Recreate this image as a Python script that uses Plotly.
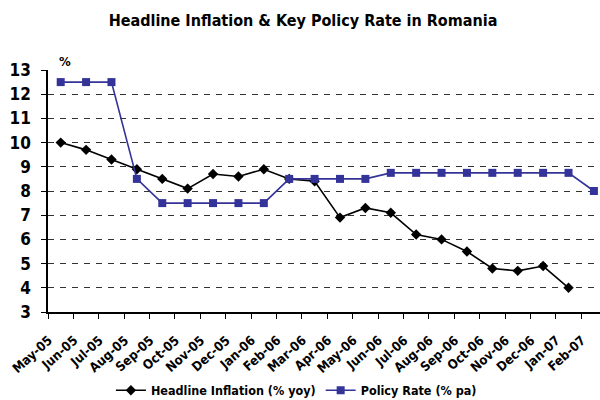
import plotly.graph_objects as go

months = ["May-05", "Jun-05", "Jul-05", "Aug-05", "Sep-05", "Oct-05", "Nov-05", "Dec-05",
          "Jan-06", "Feb-06", "Mar-06", "Apr-06", "May-06", "Jun-06", "Jul-06", "Aug-06",
          "Sep-06", "Oct-06", "Nov-06", "Dec-06", "Jan-07", "Feb-07"]
inflation = [10.0, 9.7, 9.3, 8.9, 8.5, 8.1, 8.7, 8.6, 8.9, 8.5, 8.4, 6.9, 7.3, 7.1,
             6.2, 6.0, 5.5, 4.8, 4.7, 4.9, 4.0]
policy = [12.5, 12.5, 12.5, 8.5, 7.5, 7.5, 7.5, 7.5, 7.5, 8.5, 8.5, 8.5, 8.5, 8.75,
          8.75, 8.75, 8.75, 8.75, 8.75, 8.75, 8.75, 8.0]
y_ticks = list(range(3, 14))

FONT = "DejaVu Sans Condensed, DejaVu Sans, sans-serif"

fig = go.Figure()
fig.add_trace(go.Scatter(
    x=months[:len(inflation)], y=inflation, name="Headline Inflation (% yoy)",
    mode="lines+markers", line=dict(color="black", width=1.6),
    marker=dict(symbol="diamond", size=8, color="black"), cliponaxis=False))
fig.add_trace(go.Scatter(
    x=months, y=policy, name="Policy Rate (% pa)",
    mode="lines+markers", line=dict(color="#333399", width=1.6),
    marker=dict(symbol="square", size=8, color="#333399"), cliponaxis=False))

fig.update_layout(
    width=600, height=400,
    margin=dict(l=48, r=0, t=70, b=88, autoexpand=False),
    paper_bgcolor="white", plot_bgcolor="white",
    font=dict(family=FONT, color="black"),
    title=dict(text="Headline Inflation & Key Policy Rate in Romania",
               x=0.505, xanchor="center", y=0.95, yanchor="middle",
               font=dict(size=16, family=FONT, color="black", weight="bold")),
    showlegend=True,
    legend=dict(orientation="h", x=0.45, xanchor="center", y=-0.325, yanchor="middle",
                font=dict(size=12.5, family=FONT, color="black", weight="bold"), itemwidth=30,
                traceorder="normal", bgcolor="rgba(0,0,0,0)", itemclick=False),
    xaxis=dict(type="category", categoryorder="array", categoryarray=months,
               range=[-0.5, 21.24], tickson="boundaries", ticks="outside", ticklen=5,
               tickcolor="black", tickwidth=1, showline=True, linecolor="black", linewidth=1.5,
               showgrid=False, tickangle=-42, ticklabelstandoff=14, ticklabelshift=-12,
               automargin=False,
               tickfont=dict(size=13, family=FONT, color="black", weight="bold")),
    yaxis=dict(range=[3, 13], tickvals=y_ticks, ticks="outside", ticklen=5,
               tickcolor="black", showline=True, linecolor="black", linewidth=1.5,
               showgrid=True, gridcolor="#333333", griddash="6px,6px", gridwidth=1,
               zeroline=False, ticklabelstandoff=7, automargin=False,
               tickfont=dict(size=17, family=FONT, color="black", weight="bold")),
)
fig.add_annotation(text="%", xref="paper", yref="paper", x=0.03, y=0.995,
                   xanchor="center", yanchor="bottom", showarrow=False,
                   font=dict(size=13, family=FONT, color="black", weight="bold"))
fig.write_html("out.html")
